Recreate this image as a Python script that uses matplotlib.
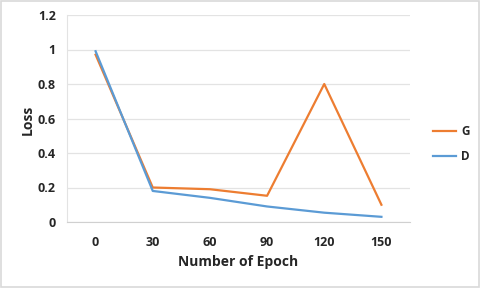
import matplotlib.pyplot as plt
from matplotlib.patches import Rectangle

# data
epochs = ["0", "30", "60", "90", "120", "150"]
loss_g = [0.97, 0.20, 0.19, 0.152, 0.80, 0.10]
loss_d = [0.99, 0.18, 0.14, 0.09, 0.054, 0.03]

plt.rcParams["font.family"] = ["Open Sans", "DejaVu Sans"]

fig = plt.figure(figsize=(4.8, 2.88), dpi=100)
ax = fig.add_axes([67 / 480, 1 - 222 / 288, 343 / 480, 207 / 288])

x = list(range(len(epochs)))
ax.plot(x, loss_g, color="#ED7D31", linewidth=1.6, label="G")
ax.plot(x, loss_d, color="#5B9BD5", linewidth=1.6, label="D")

ax.set_xlim(-0.5, len(epochs) - 0.5)
ax.set_ylim(0, 1.2)
ax.set_xticks(x)
ax.set_xticklabels(epochs)
ax.set_yticks([0, 0.2, 0.4, 0.6, 0.8, 1.0, 1.2])
ax.set_yticklabels(["0", "0.2", "0.4", "0.6", "0.8", "1", "1.2"])

ax.grid(axis="y", color="#E3E3E3", linewidth=0.9)
ax.set_axisbelow(True)
for side in ["top", "right"]:
    ax.spines[side].set_visible(False)
ax.spines["left"].set_color("#E3E3E3")
ax.spines["bottom"].set_color("#D0D0D0")
ax.tick_params(length=0, labelsize=9, labelcolor="#262626", pad=8)
for lbl in ax.get_xticklabels() + ax.get_yticklabels():
    lbl.set_fontweight("bold")
ax.tick_params(axis="x", pad=10)

fig.text(238 / 480, 1 - 262 / 288, "Number of Epoch", ha="center", va="center",
         fontsize=10, fontweight="bold", color="#262626")
fig.text(28 / 480, 1 - 120 / 288, "Loss", ha="center", va="center", rotation=90,
         fontsize=10, fontweight="bold", color="#262626")

leg = fig.legend(loc="center left", bbox_to_anchor=(422 / 480, 1 - 144 / 288),
                 frameon=False, fontsize=8.5, handlelength=2.0, labelspacing=1.0,
                 handletextpad=0.4)
for t in leg.get_texts():
    t.set_fontweight("bold")
    t.set_color("#262626")

fig.patches.append(Rectangle((0.002, 0.003), 0.995, 0.993, transform=fig.transFigure,
                             fill=False, edgecolor="#D9D9D9", linewidth=1.2))

fig.savefig("out.png", dpi=100)
